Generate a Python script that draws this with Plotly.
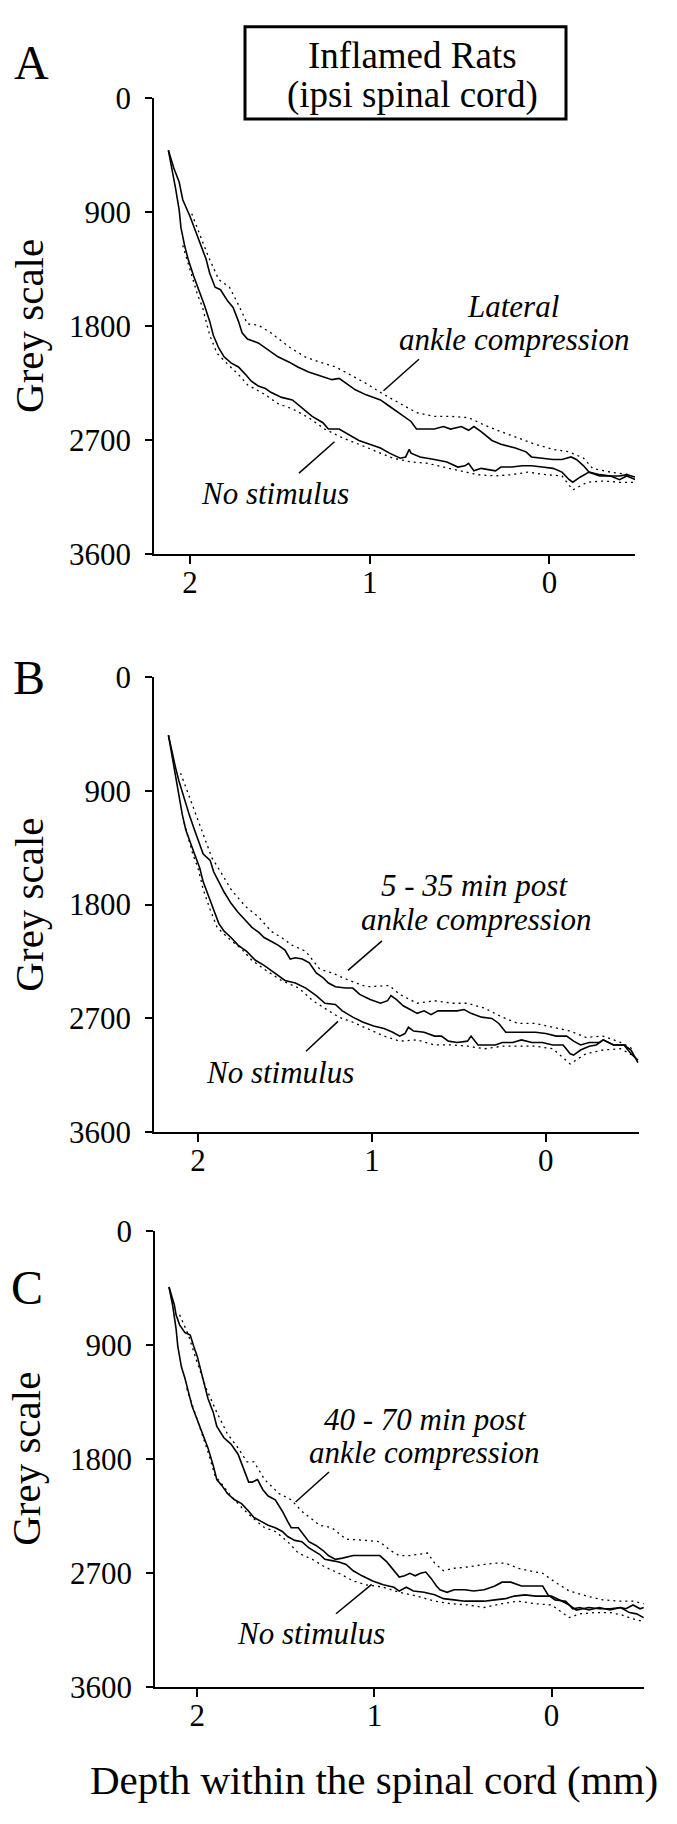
import plotly.graph_objects as go

W, H = 677, 1824
FONT = "Liberation Serif, Times New Roman, serif"

# ---------------- data (depth in mm, grey scale) ----------------
x_ticks = [2, 1, 0]
x_tick_text = ["2", "1", "0"]
y_ticks = [0, 900, 1800, 2700, 3600]
y_tick_text = ["0", "900", "1800", "2700", "3600"]

# Panel A
a_ankle_depth = [2.12, 2.09, 2.06, 2.04, 2.00, 1.97, 1.94, 1.91, 1.89, 1.86, 1.83, 1.79, 1.76, 1.73, 1.71, 1.68, 1.62, 1.57, 1.51, 1.45,
                 1.40, 1.34, 1.28, 1.21, 1.17, 1.13, 1.08, 1.02, 0.94, 0.89, 0.85, 0.81, 0.77, 0.74, 0.70, 0.64, 0.59, 0.55, 0.49, 0.45,
                 0.42, 0.38, 0.32, 0.27, 0.19, 0.13, 0.10, 0.04, -0.02, -0.07, -0.12, -0.15, -0.19, -0.22, -0.28, -0.34, -0.39, -0.43, -0.48]
a_ankle_grey = [410, 550, 660, 800, 930, 1040, 1160, 1270, 1380, 1490, 1510, 1600, 1650, 1760, 1850, 1900, 1930, 1980, 2040, 2080,
                2120, 2160, 2190, 2220, 2210, 2250, 2300, 2340, 2380, 2430, 2470, 2510, 2550, 2610, 2610, 2610, 2590, 2610, 2590, 2620,
                2590, 2630, 2700, 2730, 2760, 2790, 2830, 2840, 2850, 2850, 2830, 2850, 2900, 2950, 2970, 2980, 2980, 2970, 2990]
a_nostim_depth = [2.12, 2.10, 2.08, 2.06, 2.05, 2.03, 2.01, 1.98, 1.95, 1.92, 1.89, 1.87, 1.84, 1.81, 1.77, 1.73, 1.69, 1.66, 1.62, 1.58,
                  1.55, 1.49, 1.43, 1.38, 1.32, 1.26, 1.23, 1.17, 1.11, 1.06, 1.00, 0.94, 0.89, 0.83, 0.80, 0.78, 0.77, 0.72, 0.64, 0.57,
                  0.51, 0.47, 0.45, 0.42, 0.38, 0.30, 0.27, 0.21, 0.15, 0.10, 0.04, -0.02, -0.07, -0.11, -0.13, -0.17, -0.22, -0.28, -0.34, -0.39,
                  -0.43, -0.48]
a_nostim_grey = [410, 550, 710, 880, 1020, 1160, 1270, 1400, 1510, 1630, 1760, 1870, 1970, 2040, 2090, 2120, 2180, 2230, 2270, 2290,
                 2320, 2360, 2380, 2440, 2510, 2560, 2610, 2610, 2660, 2700, 2730, 2760, 2800, 2840, 2830, 2770, 2800, 2830, 2850, 2870,
                 2910, 2900, 2880, 2940, 2920, 2940, 2910, 2910, 2900, 2900, 2910, 2920, 2950, 3010, 3030, 2990, 2950, 2980, 2980, 3010,
                 2980, 3010]
a_ankle_sem_depth = [1.99, 1.96, 1.90, 1.84, 1.78, 1.73, 1.68, 1.62, 1.55, 1.45, 1.36, 1.28, 1.19, 1.11, 1.02, 0.93, 0.83, 0.74, 0.64, 0.55,
                     0.45, 0.36, 0.27, 0.17, 0.08, -0.02, -0.11, -0.19, -0.24, -0.34, -0.45]
a_ankle_sem_grey = [910, 1020, 1240, 1430, 1490, 1630, 1780, 1790, 1850, 1960, 2040, 2080, 2120, 2180, 2250, 2330, 2410, 2480, 2510, 2510,
                    2520, 2580, 2630, 2680, 2730, 2770, 2790, 2840, 2920, 2950, 2970]
a_nostim_sem_depth = [2.04, 1.96, 1.93, 1.89, 1.85, 1.81, 1.73, 1.68, 1.58, 1.51, 1.43, 1.34, 1.25, 1.15, 1.06, 0.96, 0.87, 0.77, 0.68, 0.59,
                      0.49, 0.40, 0.30, 0.21, 0.12, 0.02, -0.07, -0.13, -0.21, -0.30, -0.39, -0.48]
a_nostim_sem_grey = [1160, 1540, 1650, 1870, 2010, 2070, 2180, 2260, 2340, 2410, 2450, 2520, 2610, 2680, 2730, 2790, 2840, 2870, 2880, 2910,
                     2940, 2970, 2980, 2970, 2950, 2970, 2980, 3090, 3030, 3020, 3030, 3030]

# Panel B
b_ankle_depth = [2.17, 2.15, 2.13, 2.11, 2.08, 2.05, 2.02, 1.99, 1.97, 1.93, 1.91, 1.88, 1.85, 1.81, 1.77, 1.73, 1.69, 1.65, 1.62, 1.58,
                 1.54, 1.50, 1.47, 1.44, 1.40, 1.36, 1.32, 1.28, 1.25, 1.21, 1.15, 1.11, 1.07, 1.01, 0.95, 0.91, 0.89, 0.86, 0.82, 0.78,
                 0.74, 0.70, 0.66, 0.62, 0.56, 0.51, 0.47, 0.43, 0.37, 0.31, 0.27, 0.23, 0.18, 0.12, 0.06, 0.00, -0.06, -0.12, -0.16, -0.20,
                 -0.25, -0.31, -0.33, -0.39, -0.45, -0.49, -0.53]
b_ankle_grey = [460, 600, 710, 820, 960, 1090, 1210, 1320, 1400, 1450, 1540, 1620, 1700, 1790, 1860, 1920, 1980, 2020, 2060, 2090,
                2120, 2160, 2230, 2220, 2230, 2260, 2340, 2380, 2420, 2450, 2460, 2460, 2510, 2550, 2580, 2560, 2520, 2550, 2600, 2630,
                2660, 2640, 2670, 2640, 2640, 2640, 2630, 2660, 2690, 2700, 2740, 2810, 2810, 2810, 2810, 2820, 2840, 2840, 2880, 2910,
                2890, 2890, 2870, 2910, 2910, 2950, 3050]
b_nostim_depth = [2.17, 2.15, 2.13, 2.11, 2.09, 2.07, 2.05, 2.02, 1.99, 1.97, 1.94, 1.91, 1.88, 1.85, 1.81, 1.77, 1.72, 1.67, 1.62, 1.56,
                  1.50, 1.44, 1.38, 1.32, 1.27, 1.21, 1.17, 1.11, 1.05, 0.99, 0.93, 0.88, 0.84, 0.81, 0.79, 0.76, 0.70, 0.64, 0.60, 0.56,
                  0.51, 0.45, 0.43, 0.39, 0.35, 0.29, 0.25, 0.19, 0.14, 0.08, 0.02, -0.04, -0.10, -0.14, -0.16, -0.20, -0.25, -0.29, -0.33, -0.39,
                  -0.45, -0.49, -0.53]
b_nostim_grey = [460, 620, 790, 930, 1090, 1210, 1290, 1400, 1510, 1620, 1730, 1840, 1950, 2010, 2060, 2120, 2170, 2240, 2280, 2340,
                 2400, 2420, 2460, 2520, 2580, 2590, 2640, 2690, 2730, 2760, 2780, 2810, 2840, 2820, 2770, 2800, 2810, 2840, 2840, 2880,
                 2890, 2880, 2840, 2910, 2910, 2910, 2890, 2890, 2870, 2890, 2890, 2910, 2910, 2980, 2990, 2950, 2920, 2910, 2870, 2910,
                 2910, 2980, 3030]
b_ankle_sem_depth = [2.10, 2.04, 1.98, 1.92, 1.87, 1.81, 1.73, 1.65, 1.58, 1.52, 1.46, 1.38, 1.30, 1.23, 1.13, 1.03, 0.90, 0.84, 0.74, 0.64,
                     0.54, 0.45, 0.35, 0.25, 0.16, 0.06, -0.04, -0.14, -0.23, -0.33, -0.43, -0.51]
b_ankle_sem_grey = [760, 980, 1210, 1430, 1540, 1680, 1810, 1900, 2010, 2060, 2120, 2170, 2310, 2340, 2400, 2450, 2440, 2510, 2580, 2560,
                    2580, 2580, 2620, 2690, 2740, 2740, 2770, 2800, 2850, 2840, 2890, 2950]
b_nostim_sem_depth = [2.08, 2.03, 2.00, 1.97, 1.93, 1.89, 1.83, 1.75, 1.69, 1.62, 1.52, 1.42, 1.34, 1.26, 1.19, 1.11, 1.03, 0.93, 0.84,
                      0.74, 0.64, 0.54, 0.45, 0.35, 0.25, 0.16, 0.06, -0.04, -0.14, -0.23, -0.33, -0.43, -0.51]
b_nostim_sem_grey = [1150, 1400, 1510, 1680, 1840, 1980, 2060, 2150, 2240, 2310, 2400, 2460, 2560, 2630, 2690, 2730, 2780, 2840, 2880,
                     2870, 2910, 2910, 2920, 2940, 2920, 2920, 2920, 2940, 3060, 2980, 2950, 2940, 3000]

# Panel C
c_ankle_depth = [2.16, 2.13, 2.12, 2.10, 2.07, 2.04, 2.02, 2.00, 1.98, 1.96, 1.94, 1.91, 1.89, 1.85, 1.81, 1.77, 1.74, 1.71, 1.69, 1.66,
                 1.63, 1.60, 1.56, 1.52, 1.49, 1.47, 1.43, 1.40, 1.37, 1.33, 1.29, 1.26, 1.22, 1.18, 1.12, 1.05, 0.97, 0.93, 0.89, 0.86,
                 0.83, 0.80, 0.77, 0.74, 0.71, 0.68, 0.65, 0.63, 0.59, 0.55, 0.49, 0.44, 0.38, 0.32, 0.28, 0.23, 0.17, 0.11, 0.05, 0.02,
                 -0.02, -0.08, -0.12, -0.16, -0.21, -0.27, -0.33, -0.39, -0.42, -0.46, -0.50, -0.52]
c_ankle_grey = [440, 580, 660, 740, 800, 820, 910, 990, 1100, 1210, 1320, 1430, 1540, 1630, 1680, 1760, 1870, 1980, 1980, 1960,
                2040, 2090, 2120, 2210, 2290, 2340, 2340, 2400, 2450, 2480, 2520, 2560, 2590, 2580, 2560, 2560, 2560, 2610, 2680, 2730,
                2720, 2700, 2720, 2700, 2690, 2740, 2800, 2830, 2850, 2830, 2830, 2840, 2830, 2800, 2770, 2770, 2800, 2800, 2800, 2870,
                2910, 2920, 2980, 2970, 2990, 2970, 2990, 2970, 2980, 2950, 2980, 2970]
c_nostim_depth = [2.16, 2.14, 2.12, 2.11, 2.09, 2.07, 2.05, 2.03, 2.00, 1.97, 1.94, 1.91, 1.89, 1.86, 1.83, 1.79, 1.75, 1.71, 1.68, 1.64,
                  1.60, 1.56, 1.52, 1.49, 1.45, 1.41, 1.37, 1.31, 1.28, 1.24, 1.20, 1.16, 1.12, 1.07, 1.01, 0.95, 0.89, 0.86, 0.82, 0.78,
                  0.72, 0.66, 0.61, 0.55, 0.49, 0.44, 0.38, 0.32, 0.26, 0.21, 0.15, 0.09, 0.05, 0.00, -0.06, -0.10, -0.14, -0.18, -0.21, -0.27,
                  -0.33, -0.39, -0.44, -0.48, -0.52]
c_nostim_grey = [440, 580, 770, 910, 1070, 1160, 1270, 1380, 1490, 1600, 1710, 1850, 1960, 2010, 2070, 2120, 2150, 2210, 2260, 2290,
                 2320, 2340, 2370, 2410, 2440, 2450, 2500, 2550, 2590, 2600, 2610, 2630, 2680, 2720, 2760, 2790, 2810, 2840, 2810, 2840,
                 2850, 2870, 2900, 2910, 2920, 2920, 2920, 2910, 2900, 2880, 2870, 2880, 2880, 2880, 2920, 2950, 2990, 2980, 2970, 2980,
                 2980, 2970, 3010, 3020, 3050]
c_ankle_sem_depth = [2.10, 2.05, 2.00, 1.95, 1.89, 1.83, 1.77, 1.72, 1.68, 1.62, 1.54, 1.47, 1.41, 1.31, 1.24, 1.16, 1.05, 0.97, 0.91, 0.86,
                     0.80, 0.74, 0.70, 0.66, 0.61, 0.55, 0.47, 0.38, 0.32, 0.26, 0.19, 0.09, 0.05, -0.02, -0.10, -0.20, -0.29, -0.39, -0.46, -0.52]
c_ankle_sem_grey = [660, 820, 1040, 1240, 1430, 1600, 1710, 1820, 1820, 1960, 2070, 2120, 2210, 2320, 2340, 2430, 2440, 2450, 2520, 2560,
                    2560, 2550, 2540, 2620, 2680, 2660, 2650, 2630, 2620, 2620, 2660, 2690, 2700, 2770, 2840, 2880, 2910, 2920, 2920, 2940]
c_nostim_sem_depth = [2.06, 2.00, 1.94, 1.90, 1.87, 1.81, 1.75, 1.69, 1.62, 1.56, 1.49, 1.43, 1.35, 1.28, 1.20, 1.12, 1.05, 0.95, 0.86,
                      0.76, 0.66, 0.57, 0.47, 0.38, 0.28, 0.19, 0.09, 0.00, -0.10, -0.16, -0.25, -0.33, -0.40, -0.46, -0.52]
c_nostim_sem_grey = [1240, 1490, 1740, 1930, 1980, 2090, 2180, 2260, 2340, 2370, 2450, 2540, 2590, 2650, 2700, 2760, 2790, 2810, 2850,
                     2880, 2920, 2940, 2950, 2970, 2940, 2920, 2940, 2950, 3050, 3020, 3010, 3010, 3030, 3060, 3080]

# ---------------- layout helpers (pixel -> paper) ----------------
def fx(p):
    return p / W


def fy(p):
    return 1 - p / H


panels = [
    dict(xa="x", ya="y", xdom=(154, 635), ydom=(83, 548), xr=[2.20, -0.476],
         series=[(a_ankle_sem_depth, a_ankle_sem_grey, True), (a_nostim_sem_depth, a_nostim_sem_grey, True),
                 (a_ankle_depth, a_ankle_grey, False), (a_nostim_depth, a_nostim_grey, False)]),
    dict(xa="x2", ya="y2", xdom=(154, 639), ydom=(673, 1137), xr=[2.253, -0.536],
         series=[(b_ankle_sem_depth, b_ankle_sem_grey, True), (b_nostim_sem_depth, b_nostim_sem_grey, True),
                 (b_ankle_depth, b_ankle_grey, False), (b_nostim_depth, b_nostim_grey, False)]),
    dict(xa="x3", ya="y3", xdom=(155, 644), ydom=(1238, 1703), xr=[2.239, -0.522],
         series=[(c_ankle_sem_depth, c_ankle_sem_grey, True), (c_nostim_sem_depth, c_nostim_sem_grey, True),
                 (c_ankle_depth, c_ankle_grey, False), (c_nostim_depth, c_nostim_grey, False)]),
]

fig = go.Figure()
layout_axes = {}
for i, p in enumerate(panels):
    for xs, ys, dotted in p["series"]:
        if len(xs) != len(ys):
            raise ValueError(f"length mismatch in panel {i}: {len(xs)} vs {len(ys)}")
        fig.add_trace(go.Scatter(
            x=xs, y=ys, xaxis=p["xa"], yaxis=p["ya"], mode="lines",
            line=dict(color="black", width=1.3 if dotted else 1.6,
                      dash="2px,4px" if dotted else "solid"),
            hoverinfo="skip", showlegend=False))
    sfx = "" if i == 0 else str(i + 1)
    layout_axes["xaxis" + sfx] = dict(
        domain=[fx(p["xdom"][0]), fx(p["xdom"][1])], range=p["xr"], anchor=p["ya"],
        tickmode="array", tickvals=x_ticks, ticktext=x_tick_text,
        ticks="outside", ticklen=8, tickwidth=1.5, tickcolor="black",
        showline=True, linecolor="black", linewidth=1.6,
        showgrid=False, zeroline=False, ticklabelstandoff=-8,
        tickfont=dict(family=FONT, size=31, color="black"))
    layout_axes["yaxis" + sfx] = dict(
        domain=[fy(p["ydom"][1]), fy(p["ydom"][0])], range=[3600, 0], anchor=p["xa"],
        tickmode="array", tickvals=y_ticks, ticktext=y_tick_text,
        ticks="outside", ticklen=7, tickwidth=1.5, tickcolor="black",
        showline=True, linecolor="black", linewidth=1.6,
        showgrid=False, zeroline=False, ticklabelstandoff=8,
        tickfont=dict(family=FONT, size=31, color="black"))


def ann(text, x, y, size, angle=0):
    return dict(text=text, x=fx(x), y=fy(y), xref="paper", yref="paper",
                xanchor="center", yanchor="middle", showarrow=False, textangle=angle,
                font=dict(family=FONT, size=size, color="black"))


annotations = [
    ann("A", 31.5, 46, 48), ann("B", 29, 673, 48), ann("C", 27, 1295, 48),
    ann("Inflamed Rats", 412, 39, 37), ann("(ipsi spinal cord)", 412, 80, 37),
    ann("Grey scale", 29, 315, 41, -90), ann("Grey scale", 29, 905, 41, -90), ann("Grey scale", 26, 1470, 41, -90),
    ann("<i>Lateral</i>", 513, 295, 31), ann("<i>ankle compression</i>", 514, 329, 31),
    ann("<i>No stimulus</i>", 275, 486, 31),
    ann("<i>5 - 35 min post</i>", 474, 886, 31), ann("<i>ankle compression</i>", 476, 920, 31),
    ann("<i>No stimulus</i>", 280, 1076, 31),
    ann("<i>40 - 70 min post</i>", 425, 1430, 31), ann("<i>ankle compression</i>", 424, 1464, 31),
    ann("<i>No stimulus</i>", 311, 1648, 31),
    ann("Depth within the spinal cord (mm)", 374, 1797, 41),
]


def seg(x0, y0, x1, y1, w=1.5):
    return dict(type="line", xref="paper", yref="paper", x0=fx(x0), y0=fy(y0), x1=fx(x1), y1=fy(y1),
                line=dict(color="black", width=w))


shapes = [
    dict(type="rect", xref="paper", yref="paper", x0=fx(245), y0=fy(104), x1=fx(566), y1=fy(10),
         line=dict(color="black", width=3), fillcolor="rgba(0,0,0,0)"),
    seg(419, 349, 383.5, 381), seg(299, 465, 334.5, 433),
    seg(382, 942, 348, 972), seg(306, 1054.5, 338, 1024),
    seg(329, 1483.5, 295.6, 1514), seg(336, 1628, 371.7, 1598),
]

fig.update_layout(
    width=W, height=H, margin=dict(l=0, r=0, t=0, b=0),
    paper_bgcolor="white", plot_bgcolor="white", showlegend=False,
    annotations=annotations, shapes=shapes, **layout_axes)

fig.write_html("out.html", config={"displayModeBar": False},
               post_script="document.body.style.margin='0px';")
